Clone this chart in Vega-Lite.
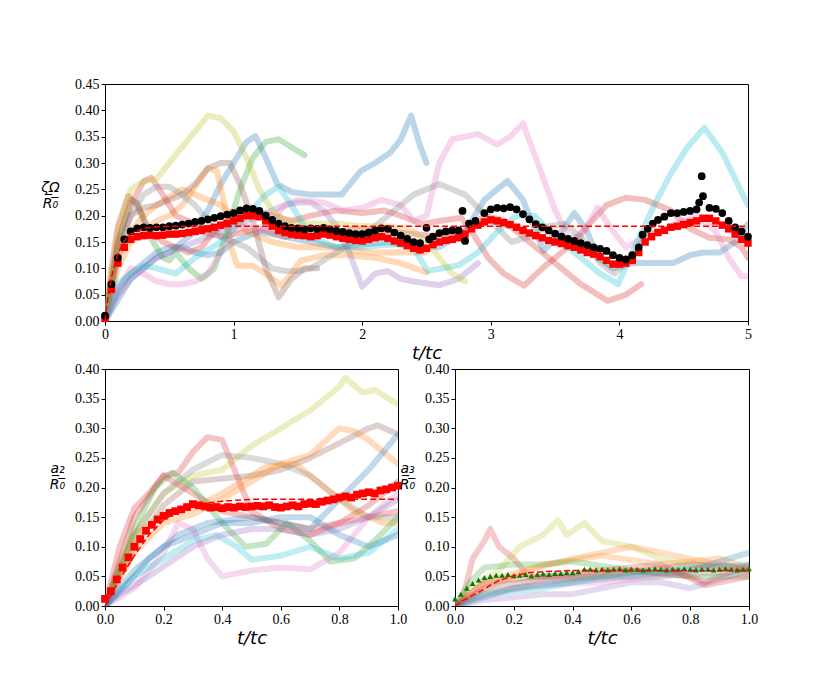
{
  "$schema": "https://vega.github.io/schema/vega-lite/v6.json",
  "background": "white",
  "padding": {"left": 40, "top": 76, "right": 0, "bottom": 0},
  "bounds": "flush",
  "spacing": 48,
  "datasets": {
    "top_runs": [
      {"run":"run01","t":0,"v":0},{"run":"run01","t":0.1,"v":0.04},{"run":"run01","t":0.2,"v":0.08},{"run":"run01","t":0.3,"v":0.1},{"run":"run01","t":0.4,"v":0.12},{"run":"run01","t":0.5,"v":0.13},{"run":"run01","t":0.6,"v":0.15},{"run":"run01","t":0.7,"v":0.17},{"run":"run01","t":0.8,"v":0.21},{"run":"run01","t":0.9,"v":0.26},{"run":"run01","t":1.0,"v":0.3},{"run":"run01","t":1.1,"v":0.34},{"run":"run01","t":1.17,"v":0.351},{"run":"run01","t":1.25,"v":0.31},{"run":"run01","t":1.34,"v":0.26},{"run":"run01","t":1.45,"v":0.245},{"run":"run01","t":1.6,"v":0.24},{"run":"run01","t":1.84,"v":0.24},{"run":"run01","t":1.99,"v":0.285},{"run":"run01","t":2.1,"v":0.3},{"run":"run01","t":2.22,"v":0.32},{"run":"run01","t":2.3,"v":0.345},{"run":"run01","t":2.38,"v":0.39},{"run":"run01","t":2.44,"v":0.34},{"run":"run01","t":2.5,"v":0.3},
      {"run":"run02","t":0,"v":0},{"run":"run02","t":0.1,"v":0.06},{"run":"run02","t":0.2,"v":0.09},{"run":"run02","t":0.3,"v":0.11},{"run":"run02","t":0.4,"v":0.13},{"run":"run02","t":0.5,"v":0.14},{"run":"run02","t":0.6,"v":0.14},{"run":"run02","t":0.7,"v":0.13},{"run":"run02","t":0.8,"v":0.125},{"run":"run02","t":0.9,"v":0.13},{"run":"run02","t":1.0,"v":0.15},{"run":"run02","t":1.2,"v":0.17},{"run":"run02","t":1.4,"v":0.16},{"run":"run02","t":1.6,"v":0.15},{"run":"run02","t":1.8,"v":0.14},{"run":"run02","t":2.0,"v":0.145},{"run":"run02","t":2.2,"v":0.15},{"run":"run02","t":2.4,"v":0.14},{"run":"run02","t":2.6,"v":0.14},{"run":"run02","t":2.8,"v":0.17},{"run":"run02","t":2.95,"v":0.23},{"run":"run02","t":3.13,"v":0.266},{"run":"run02","t":3.25,"v":0.23},{"run":"run02","t":3.41,"v":0.133},{"run":"run02","t":3.52,"v":0.16},{"run":"run02","t":3.65,"v":0.205},{"run":"run02","t":3.75,"v":0.17},{"run":"run02","t":3.83,"v":0.12},{"run":"run02","t":3.95,"v":0.1},{"run":"run02","t":4.11,"v":0.11},{"run":"run02","t":4.3,"v":0.11},{"run":"run02","t":4.42,"v":0.11},{"run":"run02","t":4.55,"v":0.125},{"run":"run02","t":4.65,"v":0.13},{"run":"run02","t":4.78,"v":0.13},{"run":"run02","t":4.9,"v":0.15},{"run":"run02","t":5.0,"v":0.184},
      {"run":"run03","t":0,"v":0},{"run":"run03","t":0.1,"v":0.1},{"run":"run03","t":0.2,"v":0.15},{"run":"run03","t":0.3,"v":0.17},{"run":"run03","t":0.4,"v":0.19},{"run":"run03","t":0.5,"v":0.2},{"run":"run03","t":0.6,"v":0.22},{"run":"run03","t":0.7,"v":0.255},{"run":"run03","t":0.8,"v":0.29},{"run":"run03","t":0.87,"v":0.285},{"run":"run03","t":0.93,"v":0.22},{"run":"run03","t":0.98,"v":0.14},{"run":"run03","t":1.03,"v":0.105},{"run":"run03","t":1.15,"v":0.105},{"run":"run03","t":1.25,"v":0.09},{"run":"run03","t":1.37,"v":0.067},{"run":"run03","t":1.45,"v":0.09},{"run":"run03","t":1.52,"v":0.114},{"run":"run03","t":1.7,"v":0.125},{"run":"run03","t":1.9,"v":0.125},{"run":"run03","t":2.1,"v":0.12},{"run":"run03","t":2.3,"v":0.11},{"run":"run03","t":2.5,"v":0.092},
      {"run":"run04","t":0,"v":0},{"run":"run04","t":0.1,"v":0.12},{"run":"run04","t":0.2,"v":0.17},{"run":"run04","t":0.3,"v":0.2},{"run":"run04","t":0.4,"v":0.22},{"run":"run04","t":0.5,"v":0.235},{"run":"run04","t":0.6,"v":0.25},{"run":"run04","t":0.7,"v":0.24},{"run":"run04","t":0.8,"v":0.23},{"run":"run04","t":0.9,"v":0.22},{"run":"run04","t":1.0,"v":0.2},{"run":"run04","t":1.1,"v":0.17},{"run":"run04","t":1.2,"v":0.16},{"run":"run04","t":1.3,"v":0.15},{"run":"run04","t":1.5,"v":0.14},{"run":"run04","t":1.7,"v":0.14},{"run":"run04","t":1.9,"v":0.135},{"run":"run04","t":2.1,"v":0.13},{"run":"run04","t":2.3,"v":0.13},{"run":"run04","t":2.5,"v":0.13},
      {"run":"run05","t":0,"v":0},{"run":"run05","t":0.1,"v":0.15},{"run":"run05","t":0.2,"v":0.23},{"run":"run05","t":0.25,"v":0.225},{"run":"run05","t":0.35,"v":0.16},{"run":"run05","t":0.45,"v":0.12},{"run":"run05","t":0.5,"v":0.115},{"run":"run05","t":0.55,"v":0.13},{"run":"run05","t":0.65,"v":0.1},{"run":"run05","t":0.75,"v":0.08},{"run":"run05","t":0.85,"v":0.1},{"run":"run05","t":0.95,"v":0.17},{"run":"run05","t":1.05,"v":0.25},{"run":"run05","t":1.15,"v":0.31},{"run":"run05","t":1.25,"v":0.34},{"run":"run05","t":1.35,"v":0.345},{"run":"run05","t":1.45,"v":0.33},{"run":"run05","t":1.55,"v":0.315},
      {"run":"run06","t":0,"v":0},{"run":"run06","t":0.05,"v":0.1},{"run":"run06","t":0.1,"v":0.18},{"run":"run06","t":0.18,"v":0.237},{"run":"run06","t":0.25,"v":0.22},{"run":"run06","t":0.35,"v":0.17},{"run":"run06","t":0.45,"v":0.15},{"run":"run06","t":0.55,"v":0.14},{"run":"run06","t":0.65,"v":0.13},{"run":"run06","t":0.75,"v":0.14},{"run":"run06","t":0.85,"v":0.17},{"run":"run06","t":1.0,"v":0.2},{"run":"run06","t":1.15,"v":0.21},{"run":"run06","t":1.3,"v":0.2},{"run":"run06","t":1.45,"v":0.19},{"run":"run06","t":1.6,"v":0.2},{"run":"run06","t":1.8,"v":0.21},{"run":"run06","t":2.0,"v":0.205},{"run":"run06","t":2.17,"v":0.21},{"run":"run06","t":2.3,"v":0.2},{"run":"run06","t":2.46,"v":0.184},{"run":"run06","t":2.6,"v":0.19},{"run":"run06","t":2.77,"v":0.196},{"run":"run06","t":2.85,"v":0.17},{"run":"run06","t":2.98,"v":0.12},{"run":"run06","t":3.1,"v":0.09},{"run":"run06","t":3.26,"v":0.067},{"run":"run06","t":3.4,"v":0.1},{"run":"run06","t":3.5,"v":0.12},{"run":"run06","t":3.6,"v":0.14},{"run":"run06","t":3.75,"v":0.18},{"run":"run06","t":3.9,"v":0.22},{"run":"run06","t":4.05,"v":0.234},{"run":"run06","t":4.2,"v":0.23},{"run":"run06","t":4.4,"v":0.21},{"run":"run06","t":4.55,"v":0.175},{"run":"run06","t":4.7,"v":0.158},{"run":"run06","t":4.85,"v":0.155},{"run":"run06","t":4.95,"v":0.14},{"run":"run06","t":5.0,"v":0.12},
      {"run":"run07","t":0,"v":0},{"run":"run07","t":0.1,"v":0.15},{"run":"run07","t":0.2,"v":0.22},{"run":"run07","t":0.3,"v":0.265},{"run":"run07","t":0.36,"v":0.272},{"run":"run07","t":0.45,"v":0.24},{"run":"run07","t":0.55,"v":0.2},{"run":"run07","t":0.65,"v":0.19},{"run":"run07","t":0.75,"v":0.17},{"run":"run07","t":0.9,"v":0.16},{"run":"run07","t":1.0,"v":0.165},{"run":"run07","t":1.2,"v":0.175},{"run":"run07","t":1.4,"v":0.16},{"run":"run07","t":1.6,"v":0.165},{"run":"run07","t":1.8,"v":0.17},{"run":"run07","t":2.0,"v":0.175},{"run":"run07","t":2.2,"v":0.17},{"run":"run07","t":2.4,"v":0.165},{"run":"run07","t":2.6,"v":0.16},{"run":"run07","t":2.8,"v":0.17},{"run":"run07","t":2.95,"v":0.2},{"run":"run07","t":3.1,"v":0.19},{"run":"run07","t":3.25,"v":0.16},{"run":"run07","t":3.4,"v":0.13},{"run":"run07","t":3.55,"v":0.1},{"run":"run07","t":3.7,"v":0.07},{"run":"run07","t":3.91,"v":0.038},{"run":"run07","t":4.05,"v":0.05},{"run":"run07","t":4.17,"v":0.07},
      {"run":"run08","t":0,"v":0},{"run":"run08","t":0.1,"v":0.05},{"run":"run08","t":0.2,"v":0.08},{"run":"run08","t":0.3,"v":0.1},{"run":"run08","t":0.4,"v":0.12},{"run":"run08","t":0.5,"v":0.13},{"run":"run08","t":0.6,"v":0.14},{"run":"run08","t":0.7,"v":0.15},{"run":"run08","t":0.8,"v":0.16},{"run":"run08","t":0.9,"v":0.17},{"run":"run08","t":1.0,"v":0.18},{"run":"run08","t":1.1,"v":0.19},{"run":"run08","t":1.2,"v":0.2},{"run":"run08","t":1.3,"v":0.21},{"run":"run08","t":1.4,"v":0.22},{"run":"run08","t":1.5,"v":0.225},{"run":"run08","t":1.6,"v":0.225},{"run":"run08","t":1.7,"v":0.21},{"run":"run08","t":1.8,"v":0.18},{"run":"run08","t":1.9,"v":0.13},{"run":"run08","t":2.0,"v":0.065},{"run":"run08","t":2.1,"v":0.09},{"run":"run08","t":2.2,"v":0.095},{"run":"run08","t":2.3,"v":0.08},{"run":"run08","t":2.4,"v":0.075},{"run":"run08","t":2.6,"v":0.068},{"run":"run08","t":2.75,"v":0.08},{"run":"run08","t":2.9,"v":0.11},
      {"run":"run09","t":0,"v":0},{"run":"run09","t":0.1,"v":0.14},{"run":"run09","t":0.2,"v":0.2},{"run":"run09","t":0.3,"v":0.215},{"run":"run09","t":0.4,"v":0.22},{"run":"run09","t":0.5,"v":0.23},{"run":"run09","t":0.6,"v":0.24},{"run":"run09","t":0.7,"v":0.26},{"run":"run09","t":0.8,"v":0.29},{"run":"run09","t":0.9,"v":0.3},{"run":"run09","t":0.97,"v":0.3},{"run":"run09","t":1.05,"v":0.26},{"run":"run09","t":1.15,"v":0.19},{"run":"run09","t":1.25,"v":0.1},{"run":"run09","t":1.35,"v":0.045},{"run":"run09","t":1.45,"v":0.08},{"run":"run09","t":1.55,"v":0.1},{"run":"run09","t":1.65,"v":0.1},
      {"run":"run10","t":0,"v":0},{"run":"run10","t":0.1,"v":0.06},{"run":"run10","t":0.2,"v":0.1},{"run":"run10","t":0.3,"v":0.09},{"run":"run10","t":0.4,"v":0.075},{"run":"run10","t":0.5,"v":0.07},{"run":"run10","t":0.6,"v":0.07},{"run":"run10","t":0.7,"v":0.075},{"run":"run10","t":0.8,"v":0.09},{"run":"run10","t":0.9,"v":0.13},{"run":"run10","t":1.0,"v":0.17},{"run":"run10","t":1.1,"v":0.18},{"run":"run10","t":1.2,"v":0.17},{"run":"run10","t":1.3,"v":0.19},{"run":"run10","t":1.4,"v":0.22},{"run":"run10","t":1.5,"v":0.23},{"run":"run10","t":1.7,"v":0.225},{"run":"run10","t":1.85,"v":0.21},{"run":"run10","t":2.0,"v":0.215},{"run":"run10","t":2.15,"v":0.23},{"run":"run10","t":2.3,"v":0.22},{"run":"run10","t":2.4,"v":0.19},{"run":"run10","t":2.5,"v":0.2},{"run":"run10","t":2.6,"v":0.3},{"run":"run10","t":2.7,"v":0.345},{"run":"run10","t":2.9,"v":0.355},{"run":"run10","t":3.05,"v":0.335},{"run":"run10","t":3.15,"v":0.35},{"run":"run10","t":3.25,"v":0.375},{"run":"run10","t":3.35,"v":0.31},{"run":"run10","t":3.5,"v":0.21},{"run":"run10","t":3.6,"v":0.16},{"run":"run10","t":3.7,"v":0.16},{"run":"run10","t":3.83,"v":0.215},{"run":"run10","t":3.95,"v":0.17},{"run":"run10","t":4.05,"v":0.14},{"run":"run10","t":4.2,"v":0.16},{"run":"run10","t":4.4,"v":0.18},{"run":"run10","t":4.6,"v":0.2},{"run":"run10","t":4.75,"v":0.17},{"run":"run10","t":4.85,"v":0.12},{"run":"run10","t":4.95,"v":0.085},{"run":"run10","t":5.0,"v":0.085},
      {"run":"run11","t":0,"v":0},{"run":"run11","t":0.1,"v":0.12},{"run":"run11","t":0.2,"v":0.2},{"run":"run11","t":0.3,"v":0.24},{"run":"run11","t":0.4,"v":0.255},{"run":"run11","t":0.5,"v":0.255},{"run":"run11","t":0.6,"v":0.24},{"run":"run11","t":0.7,"v":0.22},{"run":"run11","t":0.8,"v":0.19},{"run":"run11","t":0.9,"v":0.16},{"run":"run11","t":1.0,"v":0.15},{"run":"run11","t":1.1,"v":0.14},{"run":"run11","t":1.2,"v":0.12},{"run":"run11","t":1.3,"v":0.1},{"run":"run11","t":1.4,"v":0.095},{"run":"run11","t":1.5,"v":0.095},{"run":"run11","t":1.6,"v":0.1},{"run":"run11","t":1.8,"v":0.13},{"run":"run11","t":2.0,"v":0.16},{"run":"run11","t":2.2,"v":0.2},{"run":"run11","t":2.4,"v":0.24},{"run":"run11","t":2.6,"v":0.26},{"run":"run11","t":2.8,"v":0.24},{"run":"run11","t":3.0,"v":0.19},{"run":"run11","t":3.16,"v":0.15},{"run":"run11","t":3.3,"v":0.16},{"run":"run11","t":3.45,"v":0.18},{"run":"run11","t":3.57,"v":0.184},{"run":"run11","t":3.7,"v":0.16},{"run":"run11","t":3.85,"v":0.11},{"run":"run11","t":3.96,"v":0.09},{"run":"run11","t":4.1,"v":0.12},{"run":"run11","t":4.2,"v":0.16},{"run":"run11","t":4.3,"v":0.17},
      {"run":"run12","t":0,"v":0},{"run":"run12","t":0.1,"v":0.17},{"run":"run12","t":0.2,"v":0.25},{"run":"run12","t":0.3,"v":0.265},{"run":"run12","t":0.4,"v":0.27},{"run":"run12","t":0.5,"v":0.3},{"run":"run12","t":0.6,"v":0.33},{"run":"run12","t":0.7,"v":0.36},{"run":"run12","t":0.8,"v":0.39},{"run":"run12","t":0.9,"v":0.385},{"run":"run12","t":1.0,"v":0.36},{"run":"run12","t":1.1,"v":0.31},{"run":"run12","t":1.2,"v":0.25},{"run":"run12","t":1.3,"v":0.21},{"run":"run12","t":1.4,"v":0.19},{"run":"run12","t":1.6,"v":0.185},{"run":"run12","t":1.8,"v":0.185},{"run":"run12","t":2.0,"v":0.18},{"run":"run12","t":2.2,"v":0.18},{"run":"run12","t":2.4,"v":0.17},{"run":"run12","t":2.5,"v":0.15},{"run":"run12","t":2.6,"v":0.12},{"run":"run12","t":2.7,"v":0.09},{"run":"run12","t":2.8,"v":0.075},
      {"run":"run13","t":0,"v":0},{"run":"run13","t":0.1,"v":0.07},{"run":"run13","t":0.2,"v":0.09},{"run":"run13","t":0.3,"v":0.105},{"run":"run13","t":0.4,"v":0.1},{"run":"run13","t":0.55,"v":0.09},{"run":"run13","t":0.7,"v":0.12},{"run":"run13","t":0.9,"v":0.15},{"run":"run13","t":1.1,"v":0.2},{"run":"run13","t":1.25,"v":0.24},{"run":"run13","t":1.35,"v":0.255},{"run":"run13","t":1.45,"v":0.22},{"run":"run13","t":1.6,"v":0.16},{"run":"run13","t":1.8,"v":0.14},{"run":"run13","t":2.0,"v":0.14},{"run":"run13","t":2.2,"v":0.145},{"run":"run13","t":2.38,"v":0.146},{"run":"run13","t":2.51,"v":0.095},{"run":"run13","t":2.75,"v":0.106},{"run":"run13","t":2.9,"v":0.13},{"run":"run13","t":3.08,"v":0.177},{"run":"run13","t":3.2,"v":0.2},{"run":"run13","t":3.34,"v":0.2},{"run":"run13","t":3.5,"v":0.16},{"run":"run13","t":3.7,"v":0.12},{"run":"run13","t":3.85,"v":0.09},{"run":"run13","t":3.99,"v":0.07},{"run":"run13","t":4.1,"v":0.13},{"run":"run13","t":4.27,"v":0.22},{"run":"run13","t":4.4,"v":0.28},{"run":"run13","t":4.53,"v":0.33},{"run":"run13","t":4.66,"v":0.367},{"run":"run13","t":4.8,"v":0.32},{"run":"run13","t":4.9,"v":0.27},{"run":"run13","t":5.0,"v":0.22}
    ],
    "top_mean": [
      {"t":0,"v":0.005},{"t":0.05,"v":0.06},{"t":0.1,"v":0.11},{"t":0.15,"v":0.14},{"t":0.2,"v":0.155},{"t":0.25,"v":0.16},{"t":0.3,"v":0.162},{"t":0.35,"v":0.163},{"t":0.4,"v":0.162},{"t":0.45,"v":0.163},{"t":0.5,"v":0.165},{"t":0.55,"v":0.165},{"t":0.6,"v":0.166},{"t":0.65,"v":0.168},{"t":0.7,"v":0.17},{"t":0.75,"v":0.172},{"t":0.8,"v":0.175},{"t":0.85,"v":0.178},{"t":0.9,"v":0.182},{"t":0.95,"v":0.185},{"t":1.0,"v":0.19},{"t":1.05,"v":0.195},{"t":1.1,"v":0.2},{"t":1.15,"v":0.2},{"t":1.2,"v":0.198},{"t":1.25,"v":0.19},{"t":1.3,"v":0.18},{"t":1.35,"v":0.172},{"t":1.4,"v":0.168},{"t":1.45,"v":0.165},{"t":1.5,"v":0.163},{"t":1.55,"v":0.162},{"t":1.6,"v":0.16},{"t":1.65,"v":0.162},{"t":1.7,"v":0.165},{"t":1.75,"v":0.163},{"t":1.8,"v":0.16},{"t":1.85,"v":0.157},{"t":1.9,"v":0.155},{"t":1.95,"v":0.153},{"t":2.0,"v":0.152},{"t":2.05,"v":0.155},{"t":2.1,"v":0.158},{"t":2.15,"v":0.16},{"t":2.2,"v":0.157},{"t":2.25,"v":0.152},{"t":2.3,"v":0.148},{"t":2.35,"v":0.143},{"t":2.4,"v":0.138},{"t":2.45,"v":0.135},{"t":2.5,"v":0.138},{"t":2.55,"v":0.145},{"t":2.6,"v":0.15},{"t":2.65,"v":0.153},{"t":2.7,"v":0.155},{"t":2.75,"v":0.158},{"t":2.8,"v":0.165},{"t":2.85,"v":0.175},{"t":2.9,"v":0.182},{"t":2.95,"v":0.188},{"t":3.0,"v":0.192},{"t":3.05,"v":0.19},{"t":3.1,"v":0.187},{"t":3.15,"v":0.183},{"t":3.2,"v":0.178},{"t":3.25,"v":0.172},{"t":3.3,"v":0.167},{"t":3.35,"v":0.162},{"t":3.4,"v":0.158},{"t":3.45,"v":0.153},{"t":3.5,"v":0.15},{"t":3.55,"v":0.147},{"t":3.6,"v":0.143},{"t":3.65,"v":0.14},{"t":3.7,"v":0.135},{"t":3.75,"v":0.13},{"t":3.8,"v":0.127},{"t":3.85,"v":0.122},{"t":3.9,"v":0.115},{"t":3.95,"v":0.108},{"t":4.0,"v":0.108},{"t":4.05,"v":0.11},{"t":4.1,"v":0.115},{"t":4.15,"v":0.13},{"t":4.2,"v":0.15},{"t":4.25,"v":0.16},{"t":4.3,"v":0.168},{"t":4.35,"v":0.172},{"t":4.4,"v":0.178},{"t":4.45,"v":0.18},{"t":4.5,"v":0.183},{"t":4.55,"v":0.187},{"t":4.6,"v":0.19},{"t":4.65,"v":0.195},{"t":4.7,"v":0.195},{"t":4.75,"v":0.19},{"t":4.8,"v":0.182},{"t":4.85,"v":0.175},{"t":4.9,"v":0.165},{"t":4.95,"v":0.155},{"t":5.0,"v":0.148}
    ],
    "top_dots": [
      {"t":0,"v":0.01},{"t":0.05,"v":0.07},{"t":0.1,"v":0.12},{"t":0.15,"v":0.155},{"t":0.2,"v":0.17},{"t":0.25,"v":0.176},{"t":0.3,"v":0.178},{"t":0.35,"v":0.177},{"t":0.4,"v":0.178},{"t":0.45,"v":0.178},{"t":0.5,"v":0.18},{"t":0.55,"v":0.181},{"t":0.6,"v":0.183},{"t":0.65,"v":0.185},{"t":0.7,"v":0.188},{"t":0.75,"v":0.19},{"t":0.8,"v":0.193},{"t":0.85,"v":0.196},{"t":0.9,"v":0.199},{"t":0.95,"v":0.202},{"t":1.0,"v":0.205},{"t":1.05,"v":0.21},{"t":1.1,"v":0.214},{"t":1.15,"v":0.213},{"t":1.2,"v":0.209},{"t":1.25,"v":0.2},{"t":1.3,"v":0.192},{"t":1.35,"v":0.185},{"t":1.4,"v":0.18},{"t":1.45,"v":0.177},{"t":1.5,"v":0.176},{"t":1.55,"v":0.174},{"t":1.6,"v":0.176},{"t":1.65,"v":0.175},{"t":1.7,"v":0.177},{"t":1.75,"v":0.174},{"t":1.8,"v":0.171},{"t":1.85,"v":0.169},{"t":1.9,"v":0.167},{"t":1.95,"v":0.165},{"t":2.0,"v":0.165},{"t":2.05,"v":0.168},{"t":2.1,"v":0.172},{"t":2.15,"v":0.176},{"t":2.2,"v":0.175},{"t":2.25,"v":0.168},{"t":2.3,"v":0.162},{"t":2.35,"v":0.156},{"t":2.4,"v":0.15},{"t":2.45,"v":0.148},{"t":2.5,"v":0.177},{"t":2.52,"v":0.155},{"t":2.55,"v":0.16},{"t":2.6,"v":0.167},{"t":2.65,"v":0.17},{"t":2.7,"v":0.172},{"t":2.75,"v":0.172},{"t":2.78,"v":0.209},{"t":2.8,"v":0.152},{"t":2.83,"v":0.185},{"t":2.88,"v":0.19},{"t":2.95,"v":0.205},{"t":3.0,"v":0.212},{"t":3.05,"v":0.215},{"t":3.1,"v":0.214},{"t":3.15,"v":0.216},{"t":3.2,"v":0.212},{"t":3.25,"v":0.203},{"t":3.3,"v":0.193},{"t":3.35,"v":0.184},{"t":3.4,"v":0.178},{"t":3.45,"v":0.172},{"t":3.5,"v":0.166},{"t":3.55,"v":0.16},{"t":3.6,"v":0.156},{"t":3.65,"v":0.152},{"t":3.7,"v":0.148},{"t":3.75,"v":0.144},{"t":3.8,"v":0.14},{"t":3.85,"v":0.137},{"t":3.9,"v":0.133},{"t":3.95,"v":0.125},{"t":4.0,"v":0.12},{"t":4.05,"v":0.117},{"t":4.1,"v":0.125},{"t":4.15,"v":0.14},{"t":4.18,"v":0.164},{"t":4.22,"v":0.175},{"t":4.26,"v":0.185},{"t":4.3,"v":0.192},{"t":4.35,"v":0.198},{"t":4.4,"v":0.205},{"t":4.45,"v":0.205},{"t":4.5,"v":0.207},{"t":4.55,"v":0.209},{"t":4.6,"v":0.212},{"t":4.62,"v":0.225},{"t":4.64,"v":0.275},{"t":4.65,"v":0.237},{"t":4.7,"v":0.215},{"t":4.75,"v":0.213},{"t":4.8,"v":0.205},{"t":4.85,"v":0.19},{"t":4.9,"v":0.178},{"t":4.95,"v":0.17},{"t":5.0,"v":0.16}
    ],
    "top_fit": [
      {"t":0,"v":0},{"t":0.02,"v":0.04},{"t":0.05,"v":0.083},{"t":0.1,"v":0.128},{"t":0.15,"v":0.152},{"t":0.2,"v":0.165},{"t":0.3,"v":0.176},{"t":0.4,"v":0.179},{"t":0.5,"v":0.18},{"t":5.0,"v":0.18}
    ],
    "a2_runs": [
      {"run":"run12","t":0,"v":0},{"run":"run12","t":0.1,"v":0.12},{"run":"run12","t":0.2,"v":0.19},{"run":"run12","t":0.3,"v":0.22},{"run":"run12","t":0.4,"v":0.23},{"run":"run12","t":0.5,"v":0.27},{"run":"run12","t":0.6,"v":0.3},{"run":"run12","t":0.7,"v":0.33},{"run":"run12","t":0.8,"v":0.37},{"run":"run12","t":0.82,"v":0.385},{"run":"run12","t":0.88,"v":0.36},{"run":"run12","t":0.92,"v":0.365},{"run":"run12","t":1.0,"v":0.34},
      {"run":"run06","t":0,"v":0},{"run":"run06","t":0.05,"v":0.1},{"run":"run06","t":0.1,"v":0.165},{"run":"run06","t":0.15,"v":0.19},{"run":"run06","t":0.2,"v":0.22},{"run":"run06","t":0.25,"v":0.225},{"run":"run06","t":0.3,"v":0.26},{"run":"run06","t":0.35,"v":0.285},{"run":"run06","t":0.4,"v":0.28},{"run":"run06","t":0.45,"v":0.22},{"run":"run06","t":0.5,"v":0.16},{"run":"run06","t":0.6,"v":0.13},{"run":"run06","t":0.7,"v":0.12},{"run":"run06","t":0.8,"v":0.14},{"run":"run06","t":0.9,"v":0.17},{"run":"run06","t":1.0,"v":0.21},
      {"run":"run07","t":0,"v":0},{"run":"run07","t":0.1,"v":0.15},{"run":"run07","t":0.2,"v":0.22},{"run":"run07","t":0.3,"v":0.19},{"run":"run07","t":0.4,"v":0.16},{"run":"run07","t":0.5,"v":0.15},{"run":"run07","t":0.6,"v":0.14},{"run":"run07","t":0.7,"v":0.13},{"run":"run07","t":0.8,"v":0.14},{"run":"run07","t":0.9,"v":0.15},{"run":"run07","t":1.0,"v":0.16},
      {"run":"run11","t":0,"v":0},{"run":"run11","t":0.1,"v":0.12},{"run":"run11","t":0.2,"v":0.19},{"run":"run11","t":0.3,"v":0.23},{"run":"run11","t":0.4,"v":0.255},{"run":"run11","t":0.5,"v":0.25},{"run":"run11","t":0.6,"v":0.24},{"run":"run11","t":0.7,"v":0.22},{"run":"run11","t":0.8,"v":0.18},{"run":"run11","t":0.9,"v":0.15},{"run":"run11","t":1.0,"v":0.15},
      {"run":"run09","t":0,"v":0},{"run":"run09","t":0.1,"v":0.1},{"run":"run09","t":0.2,"v":0.17},{"run":"run09","t":0.3,"v":0.21},{"run":"run09","t":0.4,"v":0.215},{"run":"run09","t":0.5,"v":0.22},{"run":"run09","t":0.6,"v":0.23},{"run":"run09","t":0.7,"v":0.25},{"run":"run09","t":0.8,"v":0.275},{"run":"run09","t":0.9,"v":0.3},{"run":"run09","t":0.93,"v":0.305},{"run":"run09","t":1.0,"v":0.29},
      {"run":"run03","t":0,"v":0},{"run":"run03","t":0.1,"v":0.09},{"run":"run03","t":0.2,"v":0.14},{"run":"run03","t":0.3,"v":0.155},{"run":"run03","t":0.4,"v":0.18},{"run":"run03","t":0.5,"v":0.21},{"run":"run03","t":0.6,"v":0.24},{"run":"run03","t":0.7,"v":0.255},{"run":"run03","t":0.8,"v":0.3},{"run":"run03","t":0.85,"v":0.295},{"run":"run03","t":0.9,"v":0.28},{"run":"run03","t":1.0,"v":0.24},
      {"run":"run04","t":0,"v":0},{"run":"run04","t":0.1,"v":0.12},{"run":"run04","t":0.2,"v":0.155},{"run":"run04","t":0.3,"v":0.165},{"run":"run04","t":0.4,"v":0.19},{"run":"run04","t":0.5,"v":0.22},{"run":"run04","t":0.55,"v":0.235},{"run":"run04","t":0.65,"v":0.24},{"run":"run04","t":0.75,"v":0.2},{"run":"run04","t":0.85,"v":0.16},{"run":"run04","t":0.95,"v":0.14},{"run":"run04","t":1.0,"v":0.14},
      {"run":"run05","t":0,"v":0},{"run":"run05","t":0.1,"v":0.13},{"run":"run05","t":0.17,"v":0.2},{"run":"run05","t":0.23,"v":0.225},{"run":"run05","t":0.3,"v":0.2},{"run":"run05","t":0.4,"v":0.14},{"run":"run05","t":0.48,"v":0.1},{"run":"run05","t":0.55,"v":0.105},{"run":"run05","t":0.62,"v":0.14},{"run":"run05","t":0.7,"v":0.11},{"run":"run05","t":0.77,"v":0.075},{"run":"run05","t":0.85,"v":0.08},{"run":"run05","t":0.92,"v":0.11},{"run":"run05","t":1.0,"v":0.15},
      {"run":"run10","t":0,"v":0},{"run":"run10","t":0.1,"v":0.03},{"run":"run10","t":0.2,"v":0.09},{"run":"run10","t":0.25,"v":0.14},{"run":"run10","t":0.3,"v":0.13},{"run":"run10","t":0.35,"v":0.08},{"run":"run10","t":0.4,"v":0.05},{"run":"run10","t":0.5,"v":0.06},{"run":"run10","t":0.6,"v":0.065},{"run":"run10","t":0.7,"v":0.062},{"run":"run10","t":0.8,"v":0.09},{"run":"run10","t":0.9,"v":0.15},{"run":"run10","t":1.0,"v":0.19},
      {"run":"run13","t":0,"v":0},{"run":"run13","t":0.1,"v":0.05},{"run":"run13","t":0.2,"v":0.08},{"run":"run13","t":0.3,"v":0.11},{"run":"run13","t":0.38,"v":0.12},{"run":"run13","t":0.45,"v":0.1},{"run":"run13","t":0.5,"v":0.078},{"run":"run13","t":0.6,"v":0.085},{"run":"run13","t":0.7,"v":0.1},{"run":"run13","t":0.8,"v":0.08},{"run":"run13","t":0.9,"v":0.09},{"run":"run13","t":1.0,"v":0.13},
      {"run":"run01","t":0,"v":0},{"run":"run01","t":0.1,"v":0.05},{"run":"run01","t":0.15,"v":0.08},{"run":"run01","t":0.25,"v":0.12},{"run":"run01","t":0.35,"v":0.14},{"run":"run01","t":0.5,"v":0.15},{"run":"run01","t":0.6,"v":0.14},{"run":"run01","t":0.7,"v":0.13},{"run":"run01","t":0.8,"v":0.18},{"run":"run01","t":0.9,"v":0.23},{"run":"run01","t":1.0,"v":0.29},
      {"run":"run08","t":0,"v":0},{"run":"run08","t":0.05,"v":0.02},{"run":"run08","t":0.15,"v":0.05},{"run":"run08","t":0.3,"v":0.1},{"run":"run08","t":0.4,"v":0.12},{"run":"run08","t":0.5,"v":0.13},{"run":"run08","t":0.6,"v":0.13},{"run":"run08","t":0.7,"v":0.12},{"run":"run08","t":0.8,"v":0.13},{"run":"run08","t":0.9,"v":0.15},{"run":"run08","t":1.0,"v":0.18},
      {"run":"run02","t":0,"v":0},{"run":"run02","t":0.1,"v":0.06},{"run":"run02","t":0.2,"v":0.1},{"run":"run02","t":0.3,"v":0.12},{"run":"run02","t":0.4,"v":0.14},{"run":"run02","t":0.5,"v":0.14},{"run":"run02","t":0.6,"v":0.15},{"run":"run02","t":0.7,"v":0.15},{"run":"run02","t":0.8,"v":0.12},{"run":"run02","t":0.9,"v":0.1},{"run":"run02","t":1.0,"v":0.12}
    ],
    "a2_mean": [
      {"t":0,"v":0.012},{"t":0.02,"v":0.025},{"t":0.04,"v":0.045},{"t":0.06,"v":0.065},{"t":0.08,"v":0.082},{"t":0.1,"v":0.1},{"t":0.12,"v":0.113},{"t":0.14,"v":0.127},{"t":0.16,"v":0.137},{"t":0.18,"v":0.146},{"t":0.2,"v":0.152},{"t":0.22,"v":0.157},{"t":0.24,"v":0.16},{"t":0.26,"v":0.163},{"t":0.28,"v":0.167},{"t":0.3,"v":0.172},{"t":0.32,"v":0.17},{"t":0.34,"v":0.168},{"t":0.36,"v":0.166},{"t":0.38,"v":0.167},{"t":0.4,"v":0.165},{"t":0.42,"v":0.167},{"t":0.44,"v":0.166},{"t":0.46,"v":0.168},{"t":0.48,"v":0.167},{"t":0.5,"v":0.168},{"t":0.52,"v":0.169},{"t":0.54,"v":0.168},{"t":0.56,"v":0.17},{"t":0.58,"v":0.167},{"t":0.6,"v":0.166},{"t":0.62,"v":0.168},{"t":0.64,"v":0.17},{"t":0.66,"v":0.168},{"t":0.68,"v":0.172},{"t":0.7,"v":0.173},{"t":0.72,"v":0.172},{"t":0.74,"v":0.176},{"t":0.76,"v":0.178},{"t":0.78,"v":0.18},{"t":0.8,"v":0.183},{"t":0.82,"v":0.185},{"t":0.84,"v":0.183},{"t":0.86,"v":0.188},{"t":0.88,"v":0.19},{"t":0.9,"v":0.192},{"t":0.92,"v":0.19},{"t":0.94,"v":0.195},{"t":0.96,"v":0.197},{"t":0.98,"v":0.2},{"t":1.0,"v":0.203}
    ],
    "a2_fit": [
      {"t":0,"v":0},{"t":0.05,"v":0.045},{"t":0.1,"v":0.085},{"t":0.15,"v":0.12},{"t":0.2,"v":0.145},{"t":0.25,"v":0.16},{"t":0.3,"v":0.17},{"t":0.4,"v":0.177},{"t":0.5,"v":0.18},{"t":1.0,"v":0.18}
    ],
    "a3_runs": [
      {"run":"run06","t":0,"v":0},{"run":"run06","t":0.03,"v":0.02},{"run":"run06","t":0.06,"v":0.08},{"run":"run06","t":0.1,"v":0.11},{"run":"run06","t":0.12,"v":0.13},{"run":"run06","t":0.15,"v":0.1},{"run":"run06","t":0.2,"v":0.08},{"run":"run06","t":0.25,"v":0.05},{"run":"run06","t":0.4,"v":0.05},{"run":"run06","t":0.6,"v":0.06},{"run":"run06","t":0.8,"v":0.05},{"run":"run06","t":0.85,"v":0.04},{"run":"run06","t":0.95,"v":0.06},{"run":"run06","t":1.0,"v":0.07},
      {"run":"run12","t":0,"v":0},{"run":"run12","t":0.05,"v":0.03},{"run":"run12","t":0.15,"v":0.06},{"run":"run12","t":0.22,"v":0.1},{"run":"run12","t":0.3,"v":0.12},{"run":"run12","t":0.35,"v":0.145},{"run":"run12","t":0.38,"v":0.12},{"run":"run12","t":0.44,"v":0.14},{"run":"run12","t":0.5,"v":0.11},{"run":"run12","t":0.6,"v":0.1},{"run":"run12","t":0.7,"v":0.08},{"run":"run12","t":0.8,"v":0.07},{"run":"run12","t":1.0,"v":0.06},
      {"run":"run03","t":0,"v":0},{"run":"run03","t":0.1,"v":0.03},{"run":"run03","t":0.25,"v":0.06},{"run":"run03","t":0.4,"v":0.08},{"run":"run03","t":0.5,"v":0.09},{"run":"run03","t":0.6,"v":0.1},{"run":"run03","t":0.7,"v":0.09},{"run":"run03","t":0.8,"v":0.08},{"run":"run03","t":0.9,"v":0.07},{"run":"run03","t":1.0,"v":0.06},
      {"run":"run04","t":0,"v":0},{"run":"run04","t":0.1,"v":0.04},{"run":"run04","t":0.3,"v":0.07},{"run":"run04","t":0.5,"v":0.085},{"run":"run04","t":0.7,"v":0.07},{"run":"run04","t":0.9,"v":0.08},{"run":"run04","t":1.0,"v":0.065},
      {"run":"run05","t":0,"v":0},{"run":"run05","t":0.05,"v":0.04},{"run":"run05","t":0.1,"v":0.065},{"run":"run05","t":0.2,"v":0.07},{"run":"run05","t":0.3,"v":0.07},{"run":"run05","t":0.4,"v":0.075},{"run":"run05","t":0.6,"v":0.06},{"run":"run05","t":0.8,"v":0.05},{"run":"run05","t":1.0,"v":0.05},
      {"run":"run08","t":0,"v":0},{"run":"run08","t":0.1,"v":0.01},{"run":"run08","t":0.3,"v":0.02},{"run":"run08","t":0.4,"v":0.02},{"run":"run08","t":0.6,"v":0.04},{"run":"run08","t":0.7,"v":0.04},{"run":"run08","t":0.8,"v":0.03},{"run":"run08","t":1.0,"v":0.06},
      {"run":"run01","t":0,"v":0},{"run":"run01","t":0.1,"v":0.015},{"run":"run01","t":0.2,"v":0.03},{"run":"run01","t":0.4,"v":0.04},{"run":"run01","t":0.6,"v":0.05},{"run":"run01","t":0.8,"v":0.06},{"run":"run01","t":1.0,"v":0.09},
      {"run":"run10","t":0,"v":0},{"run":"run10","t":0.1,"v":0.02},{"run":"run10","t":0.3,"v":0.035},{"run":"run10","t":0.5,"v":0.04},{"run":"run10","t":0.7,"v":0.05},{"run":"run10","t":0.9,"v":0.07},{"run":"run10","t":1.0,"v":0.06},
      {"run":"run11","t":0,"v":0},{"run":"run11","t":0.1,"v":0.02},{"run":"run11","t":0.3,"v":0.04},{"run":"run11","t":0.5,"v":0.05},{"run":"run11","t":0.7,"v":0.05},{"run":"run11","t":1.0,"v":0.06},
      {"run":"run13","t":0,"v":0},{"run":"run13","t":0.1,"v":0.02},{"run":"run13","t":0.3,"v":0.03},{"run":"run13","t":0.5,"v":0.05},{"run":"run13","t":0.7,"v":0.06},{"run":"run13","t":1.0,"v":0.07},
      {"run":"run09","t":0,"v":0},{"run":"run09","t":0.1,"v":0.03},{"run":"run09","t":0.3,"v":0.045},{"run":"run09","t":0.5,"v":0.05},{"run":"run09","t":0.8,"v":0.07},{"run":"run09","t":1.0,"v":0.065},
      {"run":"run07","t":0,"v":0},{"run":"run07","t":0.1,"v":0.04},{"run":"run07","t":0.3,"v":0.05},{"run":"run07","t":0.5,"v":0.06},{"run":"run07","t":0.7,"v":0.07},{"run":"run07","t":0.85,"v":0.035},{"run":"run07","t":1.0,"v":0.05}
    ],
    "a3_mean": [
      {"t":0,"v":0.012},{"t":0.02,"v":0.02},{"t":0.04,"v":0.03},{"t":0.06,"v":0.038},{"t":0.08,"v":0.044},{"t":0.1,"v":0.048},{"t":0.12,"v":0.05},{"t":0.14,"v":0.052},{"t":0.16,"v":0.052},{"t":0.18,"v":0.053},{"t":0.2,"v":0.051},{"t":0.22,"v":0.052},{"t":0.24,"v":0.053},{"t":0.26,"v":0.051},{"t":0.28,"v":0.053},{"t":0.3,"v":0.054},{"t":0.32,"v":0.053},{"t":0.34,"v":0.055},{"t":0.36,"v":0.055},{"t":0.38,"v":0.056},{"t":0.4,"v":0.056},{"t":0.42,"v":0.058},{"t":0.44,"v":0.062},{"t":0.46,"v":0.062},{"t":0.48,"v":0.061},{"t":0.5,"v":0.062},{"t":0.52,"v":0.061},{"t":0.54,"v":0.062},{"t":0.56,"v":0.063},{"t":0.58,"v":0.061},{"t":0.6,"v":0.062},{"t":0.62,"v":0.062},{"t":0.64,"v":0.061},{"t":0.66,"v":0.062},{"t":0.68,"v":0.063},{"t":0.7,"v":0.062},{"t":0.72,"v":0.061},{"t":0.74,"v":0.062},{"t":0.76,"v":0.062},{"t":0.78,"v":0.063},{"t":0.8,"v":0.062},{"t":0.82,"v":0.061},{"t":0.84,"v":0.062},{"t":0.86,"v":0.062},{"t":0.88,"v":0.061},{"t":0.9,"v":0.062},{"t":0.92,"v":0.063},{"t":0.94,"v":0.062},{"t":0.96,"v":0.061},{"t":0.98,"v":0.062},{"t":1.0,"v":0.063}
    ],
    "a3_fit": [
      {"t":0,"v":0},{"t":0.03,"v":0.01},{"t":0.06,"v":0.018},{"t":0.09,"v":0.026},{"t":0.12,"v":0.035},{"t":0.15,"v":0.043},{"t":0.2,"v":0.051},{"t":0.25,"v":0.056},{"t":0.3,"v":0.058},{"t":0.4,"v":0.06},{"t":1.0,"v":0.06}
    ]
  },
  "vconcat": [
    {
      "width": 643,
      "height": 237,
      "encoding": {
        "x": {"field": "t", "type": "quantitative", "scale": {"domain": [0, 5], "nice": false},
              "axis": {"values": [0, 1, 2, 3, 4, 5], "format": "d", "title": "t/tc", "titlePadding": 3}},
        "y": {"field": "v", "type": "quantitative", "scale": {"domain": [0, 0.45], "nice": false},
              "axis": {"values": [0, 0.05, 0.1, 0.15, 0.2, 0.25, 0.3, 0.35, 0.4, 0.45], "format": ".2f",
                       "title": ["ζΩ", "R̅₀̅"], "titleX": -55, "titleY": 103}}
      },
      "layer": [
        {
          "data": {"name": "top_runs"},
          "mark": {"type": "line", "strokeWidth": 6, "opacity": 0.3, "strokeCap": "round", "strokeJoin": "round", "clip": true},
          "encoding": {
            "color": {"field": "run", "type": "nominal", "legend": null,
                      "scale": {"domain": ["run01","run02","run03","run04","run05","run06","run07","run08","run09","run10","run11","run12","run13"],
                                "range": ["#1f77b4","#1f77b4","#ff7f0e","#ff7f0e","#2ca02c","#d62728","#d62728","#9467bd","#8c564b","#e377c2","#7f7f7f","#bcbd22","#17becf"]}}
          }
        },
        {
          "data": {"name": "top_mean"},
          "mark": {"type": "point", "shape": "square", "filled": true, "color": "#ff0000", "opacity": 1, "size": 55}
        },
        {
          "data": {"name": "top_dots"},
          "mark": {"type": "circle", "color": "#000000", "opacity": 1, "size": 60}
        },
        {
          "data": {"name": "top_fit"},
          "mark": {"type": "line", "color": "#ff0000", "strokeWidth": 1.5, "strokeDash": [6, 3]}
        }
      ]
    },
    {
      "bounds": "flush",
      "spacing": 57,
      "hconcat": [
        {
          "width": 293,
          "height": 237,
          "encoding": {
            "x": {"field": "t", "type": "quantitative", "scale": {"domain": [0, 1], "nice": false},
                  "axis": {"values": [0, 0.2, 0.4, 0.6, 0.8, 1.0], "format": ".1f", "title": "t/tc", "titlePadding": 3}},
            "y": {"field": "v", "type": "quantitative", "scale": {"domain": [0, 0.4], "nice": false},
                  "axis": {"values": [0, 0.05, 0.1, 0.15, 0.2, 0.25, 0.3, 0.35, 0.4], "format": ".2f",
                           "title": ["a₂", "R̅₀̅"], "titleX": -48, "titleY": 99}}
          },
          "layer": [
            {
              "data": {"name": "a2_runs"},
              "mark": {"type": "line", "strokeWidth": 6, "opacity": 0.28, "strokeCap": "round", "strokeJoin": "round", "clip": true},
              "encoding": {
                "color": {"field": "run", "type": "nominal", "legend": null,
                          "scale": {"domain": ["run01","run02","run03","run04","run05","run06","run07","run08","run09","run10","run11","run12","run13"],
                                    "range": ["#1f77b4","#1f77b4","#ff7f0e","#ff7f0e","#2ca02c","#d62728","#d62728","#9467bd","#8c564b","#e377c2","#7f7f7f","#bcbd22","#17becf"]}}
              }
            },
            {
              "data": {"name": "a2_fit"},
              "mark": {"type": "line", "color": "#ff0000", "strokeWidth": 1.5, "strokeDash": [6, 3]}
            },
            {
              "data": {"name": "a2_mean"},
              "mark": {"type": "point", "shape": "square", "filled": true, "color": "#ff0000", "opacity": 1, "size": 60}
            }
          ]
        },
        {
          "width": 294,
          "height": 237,
          "encoding": {
            "x": {"field": "t", "type": "quantitative", "scale": {"domain": [0, 1], "nice": false},
                  "axis": {"values": [0, 0.2, 0.4, 0.6, 0.8, 1.0], "format": ".1f", "title": "t/tc", "titlePadding": 3}},
            "y": {"field": "v", "type": "quantitative", "scale": {"domain": [0, 0.4], "nice": false},
                  "axis": {"values": [0, 0.05, 0.1, 0.15, 0.2, 0.25, 0.3, 0.35, 0.4], "format": ".2f",
                           "title": ["a₃", "R̅₀̅"], "titleX": -48, "titleY": 99}}
          },
          "layer": [
            {
              "data": {"name": "a3_runs"},
              "mark": {"type": "line", "strokeWidth": 6, "opacity": 0.25, "strokeCap": "round", "strokeJoin": "round", "clip": true},
              "encoding": {
                "color": {"field": "run", "type": "nominal", "legend": null,
                          "scale": {"domain": ["run01","run02","run03","run04","run05","run06","run07","run08","run09","run10","run11","run12","run13"],
                                    "range": ["#1f77b4","#1f77b4","#ff7f0e","#ff7f0e","#2ca02c","#d62728","#d62728","#9467bd","#8c564b","#e377c2","#7f7f7f","#bcbd22","#17becf"]}}
              }
            },
            {
              "data": {"name": "a3_mean"},
              "mark": {"type": "point", "shape": "triangle-up", "filled": true, "color": "#008000", "opacity": 1, "size": 34}
            },
            {
              "data": {"name": "a3_fit"},
              "mark": {"type": "line", "color": "#ff0000", "strokeWidth": 1.5, "strokeDash": [6, 3]}
            }
          ]
        }
      ]
    }
  ],
  "config": {
    "view": {"stroke": "#000000", "strokeWidth": 1},
    "axis": {
      "grid": false,
      "domainColor": "#000000",
      "domainWidth": 1,
      "tickColor": "#000000",
      "tickSize": 4,
      "labelFont": "Liberation Serif, DejaVu Serif, serif",
      "labelFontSize": 14,
      "labelColor": "#000000",
      "labelPadding": 2,
      "labelFlush": false,
      "labelOverlap": false,
      "titleFont": "DejaVu Sans",
      "titleFontStyle": "italic",
      "titleFontWeight": "normal",
      "titleFontSize": 18,
      "titleColor": "#000000"
    },
    "axisY": {
      "titleAngle": 0,
      "titleAlign": "center",
      "titleBaseline": "middle",
      "titleFontSize": 14,
      "titleLineHeight": 16
    }
  }
}
